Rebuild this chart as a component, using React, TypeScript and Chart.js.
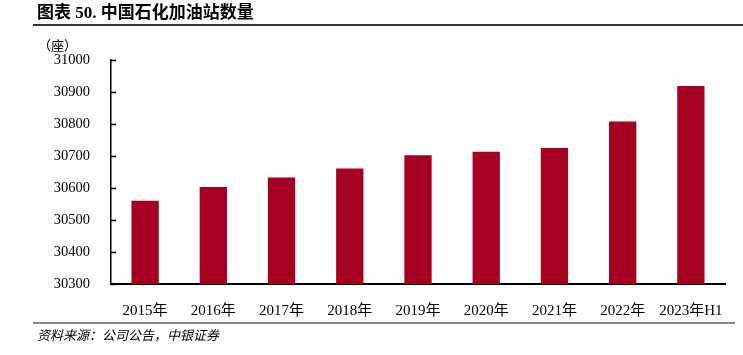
import React, { useEffect, useRef } from "react";
import { Chart, registerables } from "chart.js";

Chart.register(...registerables);

const categories = ["2015年", "2016年", "2017年", "2018年", "2019年", "2020年", "2021年", "2022年", "2023年H1"];
const stationCounts = [30560, 30603, 30633, 30661, 30702, 30713, 30725, 30808, 30919];
const yMin = 30300;
const yMax = 31000;
const yStep = 100;

const titleText = "图表 50. 中国石化加油站数量";
const unitText = "（座）";
const sourceText = "资料来源：公司公告，中银证券";

const FONT = "'Times New Roman', 'Liberation Serif', 'Noto Sans CJK SC', serif";
const CJK_FONT = "'Noto Sans CJK SC', 'Liberation Serif', serif";

const inwardTicks = {
  id: "inwardTicks",
  afterDraw(chart: any) {
    const { ctx, chartArea, scales } = chart;
    const y = scales.y;
    ctx.save();
    ctx.strokeStyle = "#000";
    ctx.lineWidth = 1.5;
    y.ticks.forEach((t: any) => {
      const py = Math.round(y.getPixelForValue(t.value)) + 0.5;
      ctx.beginPath();
      ctx.moveTo(chartArea.left, py);
      ctx.lineTo(chartArea.left + 5, py);
      ctx.stroke();
    });
    ctx.restore();
  },
};

export default function App() {
  const ref = useRef<HTMLCanvasElement | null>(null);
  useEffect(() => {
    if (!ref.current) return;
    const chart = new Chart(ref.current, {
      type: "bar",
      data: {
        labels: categories,
        datasets: [
          {
            data: stationCounts,
            backgroundColor: "#A50021",
            borderWidth: 0,
            categoryPercentage: 1,
            barPercentage: 0.4,
          },
        ],
      },
      options: {
        animation: false,
        responsive: false,
        maintainAspectRatio: false,
        layout: { padding: { top: 60, right: 18, left: 0, bottom: 0 } },
        plugins: { legend: { display: false }, tooltip: { enabled: false }, title: { display: false } },
        scales: {
          x: {
            grid: { display: false },
            border: { display: true, color: "#000", width: 2 },
            ticks: { color: "#000", font: { family: FONT, size: 15 }, padding: 10, maxRotation: 0, autoSkip: false },
            afterFit: (s: any) => {
              s.height = 71;
            },
          },
          y: {
            min: yMin,
            max: yMax,
            grid: { display: false },
            border: { display: true, color: "#000", width: 1.5 },
            ticks: {
              stepSize: yStep,
              color: "#000",
              font: { family: FONT, size: 14.5 },
              padding: 13,
              callback: (v: any) => String(v),
            },
            afterFit: (s: any) => {
              s.width = 111;
            },
          },
        },
      },
      plugins: [inwardTicks],
    });
    return () => chart.destroy();
  }, []);

  return (
    <div style={{ position: "absolute", left: 0, top: 0, width: 743, height: 355, background: "#fff", overflow: "hidden" }}>
      <canvas ref={ref} width={743} height={355} style={{ position: "absolute", left: 0, top: 0, width: 743, height: 355 }} />
      <div style={{ position: "absolute", left: 37, top: 3, fontFamily: FONT, fontWeight: "bold", fontSize: 17, lineHeight: "20px", color: "#000", whiteSpace: "nowrap" }}>
        {titleText}
      </div>
      <div style={{ position: "absolute", left: 33, top: 24, width: 710, height: 1.5, background: "#333" }} />
      <div style={{ position: "absolute", left: 38, top: 36, fontFamily: CJK_FONT, fontSize: 13, lineHeight: "18px", color: "#000", whiteSpace: "nowrap" }}>
        {unitText}
      </div>
      <div style={{ position: "absolute", left: 33, top: 322, width: 702, height: 1.5, background: "#888" }} />
      <div style={{ position: "absolute", left: 37, top: 328, fontFamily: FONT, fontStyle: "italic", fontSize: 13, lineHeight: "16px", color: "#000", whiteSpace: "nowrap" }}>
        {sourceText}
      </div>
    </div>
  );
}
